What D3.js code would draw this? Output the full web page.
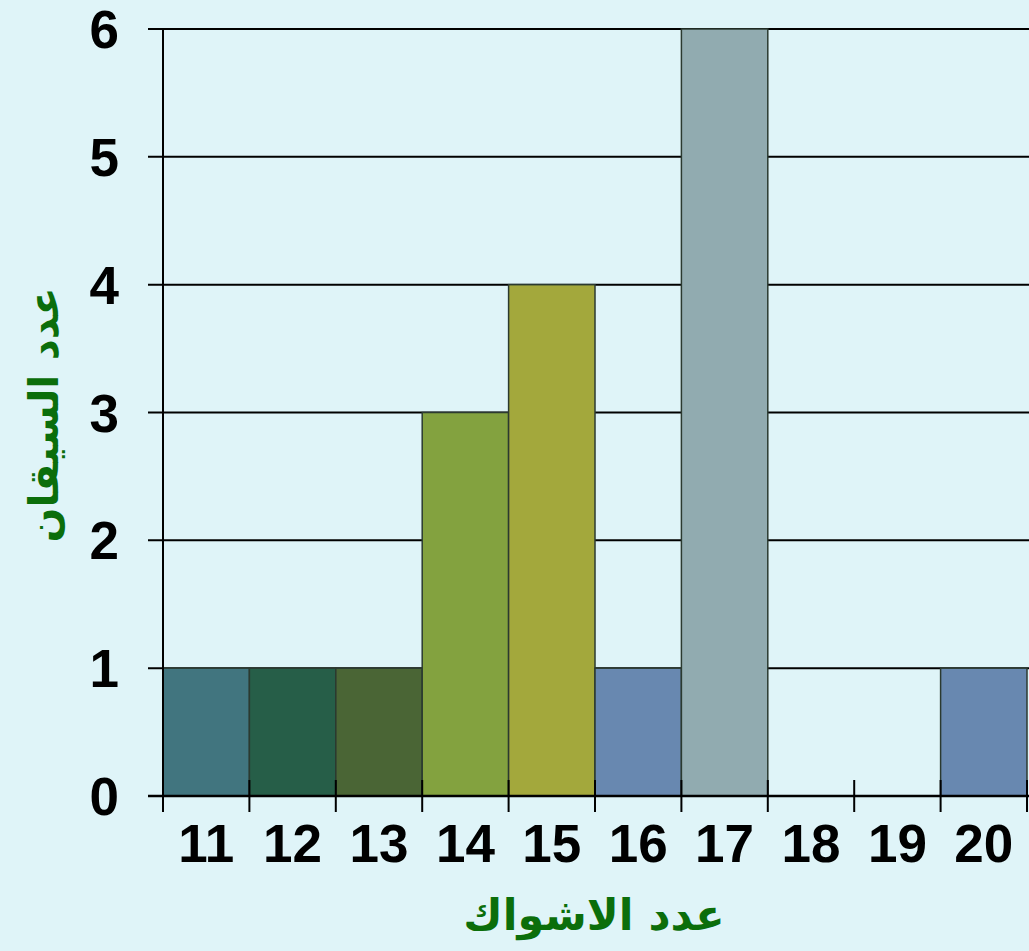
<!DOCTYPE html>
<html><head><meta charset="utf-8">
<script src="https://cdn.jsdelivr.net/npm/d3@7"></script>
<style>html,body{margin:0;padding:0;background:#dff4f8;}svg{display:block;}</style>
</head><body>
<script>
const bins = [11,12,13,14,15,16,17,18,19,20];
const counts = [1,1,1,3,4,1,6,0,0,1];
const barColors = ["#41757f","#265e48","#4a6535","#83a23f","#a3a83c","#6888b0","#91abb0","#6888b0","#6888b0","#6888b0"];
const yTicks = [0,1,2,3,4,5,6];
const xTitle = "عدد الاشواك";
const yTitle = "عدد السيقان";

const W = 1029, H = 951;
const svg = d3.select("body").append("svg").attr("width", W).attr("height", H);
svg.append("rect").attr("width", W).attr("height", H).attr("fill", "#dff4f8");

const x = d3.scaleLinear().domain([11, 21]).range([163, 1027]);
const y = d3.scaleLinear().domain([0, 6]).range([796, 29]);

// gridlines
svg.append("g").selectAll("line").data(yTicks).join("line")
  .attr("x1", 148).attr("x2", W).attr("y1", d => y(d)).attr("y2", d => y(d))
  .attr("stroke", "#000").attr("stroke-width", 2);

// bars
svg.append("g").selectAll("rect").data(bins.map((b,i)=>({b, c:counts[i], col:barColors[i]})).filter(d=>d.c>0)).join("rect")
  .attr("x", d => x(d.b)).attr("width", d => x(d.b+1)-x(d.b))
  .attr("y", d => y(d.c)).attr("height", d => y(0)-y(d.c))
  .attr("fill", d => d.col).attr("stroke", "#2b3a30").attr("stroke-width", 1.5);

// y axis line
svg.append("line").attr("x1", 163).attr("x2", 163).attr("y1", y(6)).attr("y2", y(0))
  .attr("stroke", "#000").attr("stroke-width", 2);
// x axis line
svg.append("line").attr("x1", 148).attr("x2", W).attr("y1", y(0)).attr("y2", y(0))
  .attr("stroke", "#000").attr("stroke-width", 2.5);

// x ticks at bin edges
const edges = d3.range(11, 22);
svg.append("g").selectAll("line").data(edges).join("line")
  .attr("x1", d => x(d)).attr("x2", d => x(d)).attr("y1", y(0)-16).attr("y2", y(0)+16)
  .attr("stroke", "#000").attr("stroke-width", 2);

// x labels
svg.append("g").selectAll("text").data(bins).join("text")
  .attr("x", d => x(d+0.5)).attr("y", 862)
  .attr("text-anchor", "middle")
  .attr("font-family", "Liberation Sans, Arial, sans-serif").attr("font-weight", "bold").attr("font-size", 53)
  .attr("fill", "#000").text(d => d);

// y labels
svg.append("g").selectAll("text").data(yTicks).join("text")
  .attr("x", 119).attr("y", d => y(d)+19)
  .attr("text-anchor", "end")
  .attr("font-family", "Liberation Sans, Arial, sans-serif").attr("font-weight", "bold").attr("font-size", 53)
  .attr("fill", "#000").text(d => d);

// titles
svg.append("text").attr("x", 594).attr("y", 930).attr("text-anchor", "middle")
  .attr("font-family", "DejaVu Sans, Noto Sans, sans-serif").attr("font-weight", "bold").attr("font-size", 43)
  .attr("fill", "#0b6e0b").attr("direction", "rtl").text(xTitle);
svg.append("text").attr("transform", "translate(58,415) rotate(-90)").attr("text-anchor", "middle")
  .attr("font-family", "DejaVu Sans, Noto Sans, sans-serif").attr("font-weight", "bold").attr("font-size", 41)
  .attr("fill", "#0b6e0b").attr("direction", "rtl").text(yTitle);
</script>
</body></html>
